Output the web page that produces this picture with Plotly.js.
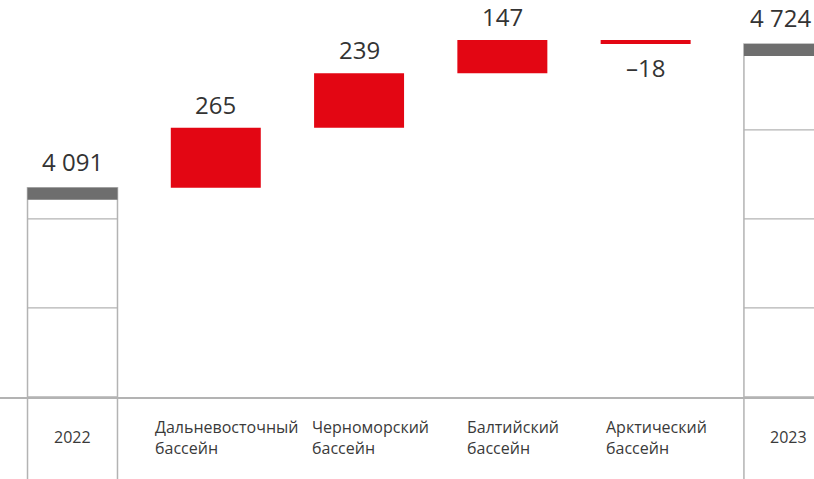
<!DOCTYPE html>
<html><head><meta charset="utf-8">
<script src="https://cdn.plot.ly/plotly-3.0.1.min.js"></script>
<style>html,body{margin:0;padding:0;background:#fff}#chart{width:814px;height:479px}</style>
</head><body><div id="chart"></div>
<script>
// ---- data ----
const categories = ['2022', 'Дальневосточный<br>бассейн', 'Черноморский<br>бассейн', 'Балтийский<br>бассейн', 'Арктический<br>бассейн', '2023'];
const measures = ['total', 'relative', 'relative', 'relative', 'relative', 'total'];
const values = [4091, 265, 239, 147, -18, 4724];

// ---- layout constants ----
const W = 814, H = 479, MB = 82;
const plotH = H - MB;
const yBase = 3170, yTop = 4918;
const gridStep = 392;
const barW = 0.628;
const unitsPerPx = (yTop - yBase) / plotH;
const band = 12 * unitsPerPx;

const RED = '#e30613', GRAY = '#6e6e6e', LINE = '#b3b3b3', TXT = '#333333';
const FONT = 'Open Sans, Inter, sans-serif';

function fmt(v) {
  const s = String(Math.abs(v)).replace(/\B(?=(\d{3})+(?!\d))/g, '\u00a0');
  return (v < 0 ? '\u2013' : '') + s;
}

// compute waterfall geometry
let cum = 0;
const totX = [], totY = [], totTop = [];
const incX = [], incB = [], incY = [];
const decX = [], decB = [], decY = [];
const annotations = [], shapes = [];
const lastIdx = values.length - 1;
values.forEach((v, i) => {
  const c = categories[i];
  if (measures[i] === 'total') {
    cum = v;
    totX.push(c); totY.push(v - yBase); totTop.push(v);
    annotations.push({x: i, y: v, xref: 'x', yref: 'y', text: fmt(v), showarrow: false,
      yanchor: 'bottom', yshift: 8, xshift: i === lastIdx ? -8 : 0,
      font: {size: 24, color: TXT, family: FONT}});
    // grid lines inside the total bar
    for (let g = yBase + gridStep; g < v - band; g += gridStep) {
      shapes.push({type: 'line', xref: 'x', yref: 'y', x0: i - barW / 2, x1: i + barW / 2, y0: g, y1: g,
        line: {color: LINE, width: 1.2}});
    }
    // dividers below the axis
    [i - barW / 2, i + barW / 2].forEach(xx => shapes.push({type: 'line', xref: 'x', yref: 'paper',
      x0: xx, x1: xx, y0: 0, y1: -MB / plotH, line: {color: LINE, width: 1.5}}));
  } else {
    const start = cum, end = cum + v;
    if (v >= 0) { incX.push(c); incB.push(start); incY.push(v); }
    else { decX.push(c); decB.push(start); decY.push(v); }
    annotations.push({x: i, y: end, xref: 'x', yref: 'y', text: fmt(v), showarrow: false,
      yanchor: v >= 0 ? 'bottom' : 'top', yshift: v >= 0 ? 5 : -5,
      font: {size: 24, color: TXT, family: FONT}});
    cum = end;
  }
  // category label
  const multi = categories[i].indexOf('<br>') >= 0;
  annotations.push({x: i, y: 0, xref: 'x', yref: 'paper', text: categories[i], showarrow: false,
    yanchor: 'middle', yshift: -40, xanchor: 'center', align: 'left', xshift: multi ? 11 : 0,
    font: {size: 16, color: '#3a3a3a', family: FONT}});
});

const traces = [
  {type: 'bar', x: totX, y: totY, base: yBase, width: barW,
   marker: {color: '#ffffff', line: {color: LINE, width: 1.5}}, hoverinfo: 'skip'},
  {type: 'bar', x: totX, y: totTop.map(() => band), base: totTop.map(t => t - band), width: barW,
   marker: {color: GRAY, line: {width: 0}}, hoverinfo: 'skip'},
  {type: 'bar', x: incX, y: incY, base: incB, width: barW,
   marker: {color: RED, line: {width: 0}}, hoverinfo: 'skip'},
  {type: 'bar', x: decX, y: decY, base: decB, width: barW,
   marker: {color: RED, line: {width: 0}}, hoverinfo: 'skip'}
];

const layout = {
  width: W, height: H,
  margin: {l: 0, r: 0, t: 0, b: MB, pad: 0},
  paper_bgcolor: '#ffffff', plot_bgcolor: '#ffffff',
  barmode: 'overlay', showlegend: false,
  xaxis: {type: 'category', categoryorder: 'array', categoryarray: categories,
    range: [-0.506, 5.175], showticklabels: false, ticks: '', showgrid: false, zeroline: false,
    showline: true, linecolor: LINE, linewidth: 1.5},
  yaxis: {range: [yBase, yTop], visible: false, showgrid: false, zeroline: false},
  annotations: annotations, shapes: shapes
};

Plotly.newPlot('chart', traces, layout, {staticPlot: true});
</script></body></html>
